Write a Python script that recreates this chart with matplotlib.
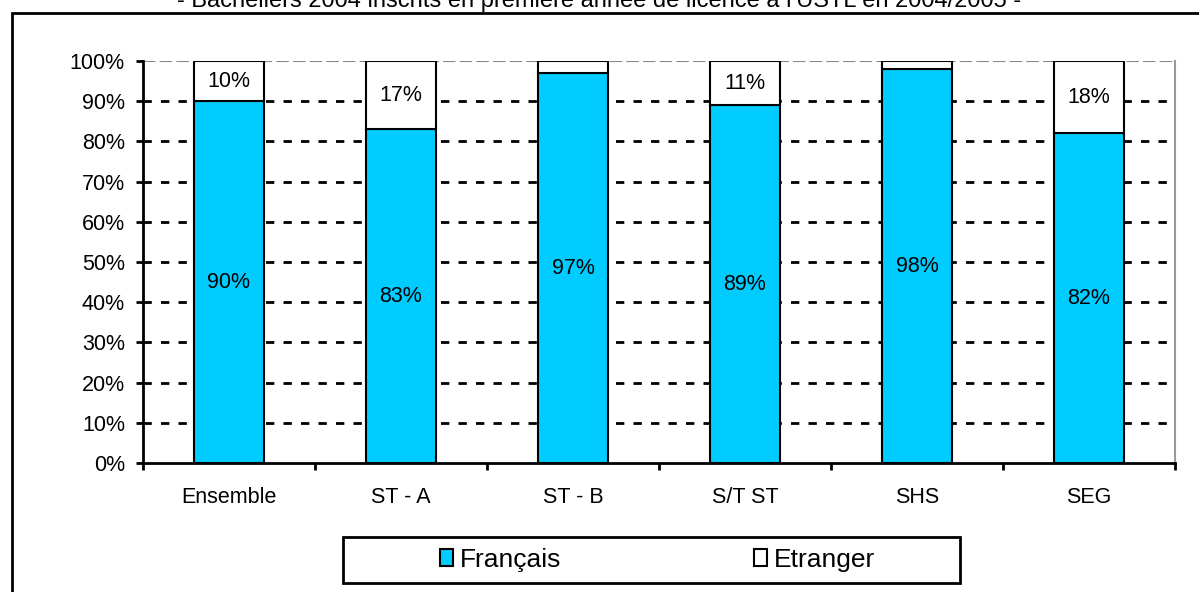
import matplotlib
matplotlib.use("Agg")
import matplotlib.pyplot as plt
from matplotlib.patches import Rectangle, Patch
import numpy as np

plt.rcParams['font.family'] = ['Liberation Sans', 'DejaVu Sans']

categories = ["Ensemble", "ST - A", "ST - B", "S/T ST", "SHS", "SEG"]
francais = [90, 83, 97, 89, 98, 82]
etranger = [10, 17, 3, 11, 2, 18]
title = "- Bacheliers 2004 inscrits en première année de licence à l'USTL en 2004/2005 -"

W, H = 1199, 592
fig = plt.figure(figsize=(W / 100, H / 100), dpi=100)

# outer frame (extends beyond right/bottom edges)
fig.patches.append(Rectangle((11.5 / W, -0.1), 1.2, 1 - 12.5 / H + 0.1,
                             transform=fig.transFigure, fill=False,
                             edgecolor='black', linewidth=2))

fig.text(0.5, 1 - 7 / H, title, ha='center', va='baseline', fontsize=17)

FS = 15.5
ax = fig.add_axes([143 / W, 1 - 463 / H, (1175 - 143) / W, (463 - 61) / H])
x = np.arange(len(categories))
bw = 0.41
ax.bar(x, francais, bw, color='#00CCFF', edgecolor='black', linewidth=1.5,
       label='Français', zorder=3)
ax.bar(x, etranger, bw, bottom=francais, color='white', edgecolor='black',
       linewidth=1.5, label='Etranger', zorder=3)

for xi, f, e in zip(x, francais, etranger):
    ax.text(xi, f / 2, f"{f}%", ha='center', va='center', fontsize=FS, zorder=4)
    if e >= 10:
        ax.text(xi, f + e / 2, f"{e}%", ha='center', va='center', fontsize=FS, zorder=4)

ax.set_xlim(-0.5, len(categories) - 0.5)
ax.set_ylim(0, 100)
yt = np.arange(0, 101, 10)
ax.set_yticks(yt)
ax.set_yticklabels([f"{v}%" for v in yt], fontsize=FS)
for v in yt[1:-1]:
    ax.axhline(v, color='black', linestyle=(0, (3, 3.3)), linewidth=2, zorder=1)
ax.axhline(100, color='#888888', linestyle=(0, (6, 2)), linewidth=1.5, zorder=1)

ax.set_xticks(x)
ax.set_xticklabels(categories, fontsize=FS)
ax.tick_params(axis='x', which='major', length=0, pad=17)
ax.set_xticks(np.arange(-0.5, len(categories), 1), minor=True)
ax.tick_params(axis='x', which='minor', length=5, width=2, color='black')
ax.tick_params(axis='y', length=5, width=2, pad=8)

ax.spines['top'].set_visible(False)
ax.spines['right'].set_color('#999999')
ax.spines['right'].set_linewidth(1.5)
ax.spines['left'].set_linewidth(2)
ax.spines['bottom'].set_linewidth(2)

# legend frame drawn separately
fig.patches.append(Rectangle((343 / W, 1 - 583 / H), (960 - 343) / W, 46 / H,
                             transform=fig.transFigure, fill=True, facecolor='white',
                             edgecolor='black', linewidth=2, zorder=5))
handles = [Patch(facecolor='#00CCFF', edgecolor='black', linewidth=1.5),
           Patch(facecolor='white', edgecolor='black', linewidth=1.5)]
leg = fig.legend(handles, ['Français', 'Etranger'], loc='center left',
                 bbox_to_anchor=(440 / W, 1 - 560 / H),
                 ncol=2, fontsize=19, frameon=False,
                 handlelength=0.5, handleheight=0.6, handletextpad=0.25,
                 columnspacing=7.3, borderpad=0.0, borderaxespad=0)
leg.set_zorder(6)

fig.savefig('out.png', dpi=100)
